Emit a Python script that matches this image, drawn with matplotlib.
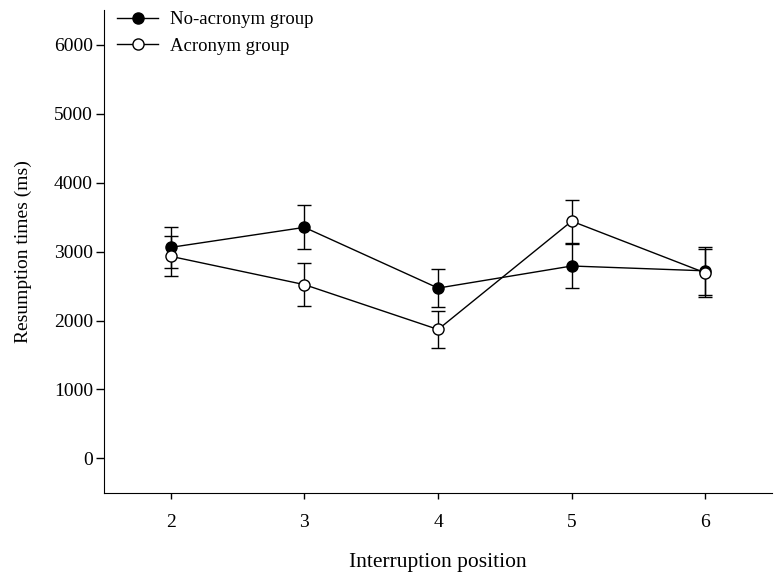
import numpy as np
import matplotlib.pyplot as plt

# datos
positions = [2, 3, 4, 5, 6]
no_acronym = [3060, 3350, 2470, 2790, 2720]
no_acronym_err = [295, 320, 270, 320, 350]
acronym = [2930, 2520, 1870, 3440, 2690]
acronym_err = [290, 315, 272, 310, 350]

plt.rcParams['font.family'] = ['Liberation Serif', 'DejaVu Serif']

fig = plt.figure(figsize=(7.77, 5.77), dpi=100)
ax = fig.add_axes([0.1338, 0.1456, 0.86, 0.837])

ax.errorbar(positions, no_acronym, yerr=no_acronym_err, color='black', lw=1,
            marker='o', ms=8, mfc='black', mec='black', capsize=5, elinewidth=1,
            capthick=1, label='No-acronym group')
ax.errorbar(positions, acronym, yerr=acronym_err, color='black', lw=1,
            marker='o', ms=8, mfc='white', mec='black', capsize=5, elinewidth=1,
            capthick=1, label='Acronym group')

ax.set_xlim(1.5, 6.5)
ax.set_ylim(-500, 6500)
ax.set_xticks(positions)
ax.set_yticks(np.arange(0, 6001, 1000))
ax.spines['top'].set_visible(False)
ax.spines['right'].set_visible(False)
ax.tick_params(direction='out', width=1, labelsize=14)
ax.tick_params(axis='y', length=6, pad=2)
ax.tick_params(axis='x', length=4, pad=11)
ax.set_xlabel('Interruption position', fontsize=15.5, labelpad=16)
ax.set_ylabel('Resumption times (ms)', fontsize=14, labelpad=16)

h, l = ax.get_legend_handles_labels()
h = [x[0] for x in h]
ax.legend(h, l, loc='upper left', bbox_to_anchor=(0.0, 1.025), frameon=False,
          fontsize=13.5, handlelength=2.2, handletextpad=0.6, labelspacing=0.5,
          borderaxespad=0.3)

plt.savefig('out.png')
